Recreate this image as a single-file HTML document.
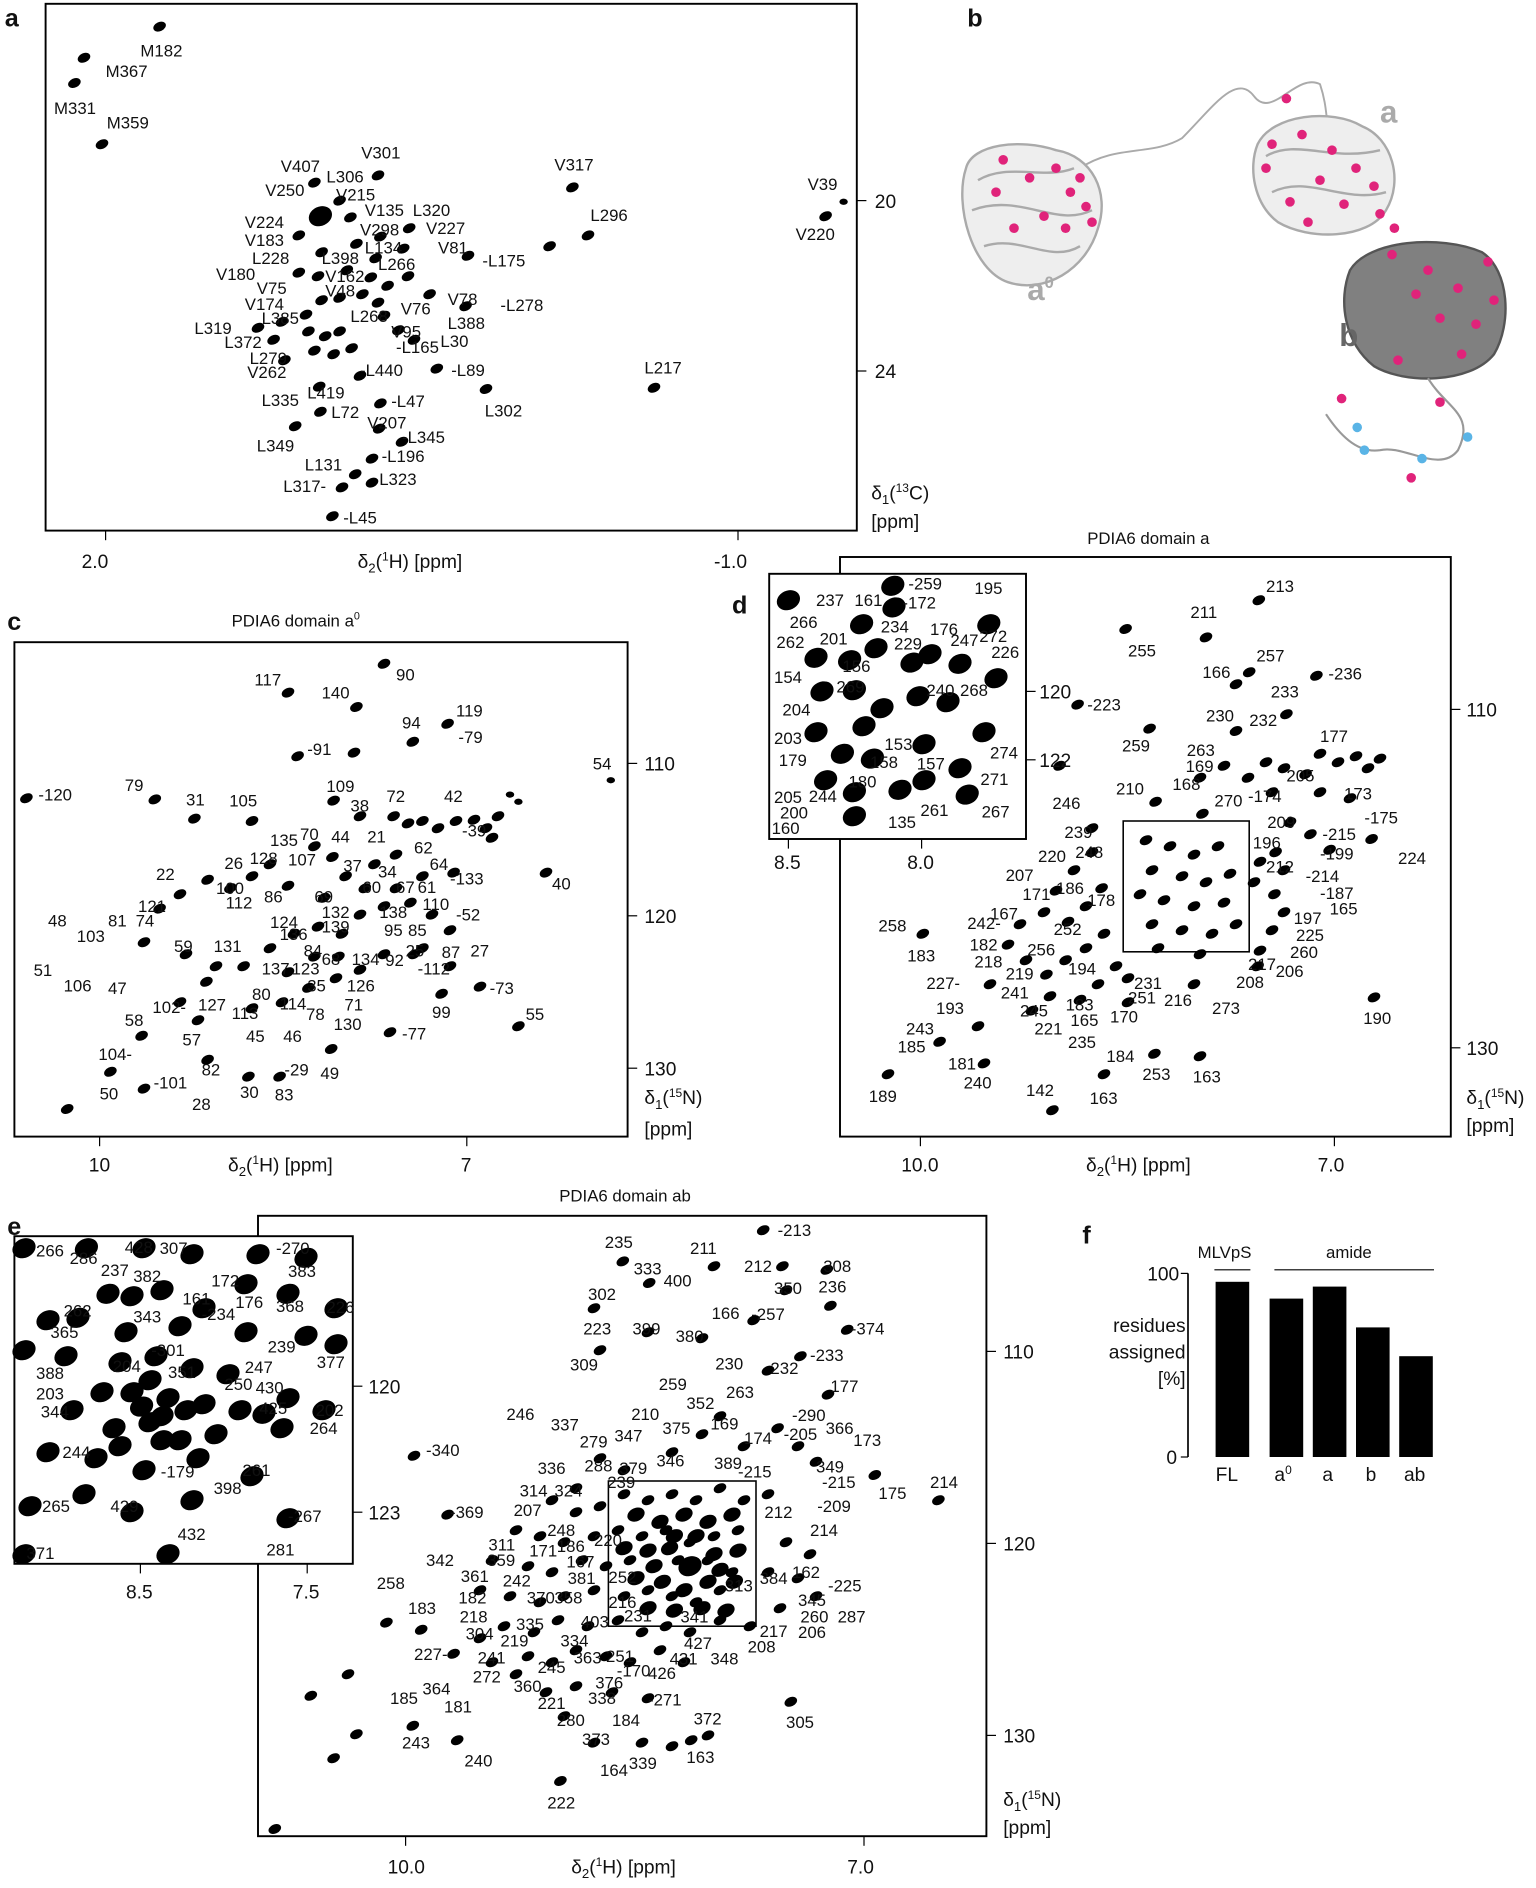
<!DOCTYPE html>
<html><head><meta charset="utf-8"><style>
html,body{margin:0;padding:0;background:#fff}
svg{display:block}
text{font-family:"Liberation Sans",Arial,sans-serif;font-size:14px;fill:#111}
.p{font-weight:bold;font-size:21px}
.t{font-size:16px}
.big{font-size:26px;font-weight:bold}
</style></head><body>
<svg width="1536" height="1888" viewBox="0 0 1280 1573" xmlns="http://www.w3.org/2000/svg">
<defs>
<ellipse id="k" rx="5.5" ry="3.8" transform="rotate(-25)" fill="#000"/>
<ellipse id="s" rx="3.5" ry="2.6" fill="#000"/>
<ellipse id="K" rx="10" ry="8" transform="rotate(-25)" fill="#000"/>
<ellipse id="M" rx="7.5" ry="5.5" transform="rotate(-25)" fill="#000"/>
</defs>

<!-- Panel a -->
<text class="p" x="4" y="22">a</text>
<rect x="38" y="3" width="676" height="439" fill="none" stroke="#000" stroke-width="1.6"/>
<line x1="714" y1="167" x2="722" y2="167" stroke="#000"/><text class="t" x="729" y="173">20</text>
<line x1="714" y1="309" x2="722" y2="309" stroke="#000"/><text class="t" x="729" y="315">24</text>
<line x1="88" y1="442" x2="88" y2="450" stroke="#000"/><text class="t" x="68" y="473">2.0</text>
<line x1="615" y1="442" x2="615" y2="450" stroke="#000"/><text class="t" x="595" y="473">-1.0</text>
<text class="t" x="298" y="473">δ<tspan font-size="11" dy="4">2</tspan><tspan dy="-4">(</tspan><tspan font-size="10" dy="-6">1</tspan><tspan dy="6">H) [ppm]</tspan></text>
<text class="t" x="726" y="416">δ<tspan font-size="11" dy="4">1</tspan><tspan dy="-4">(</tspan><tspan font-size="10" dy="-6">13</tspan><tspan dy="6">C)</tspan></text>
<text class="t" x="726" y="440">[ppm]</text>
<g>
<use href="#k" x="133" y="22"/><use href="#k" x="70" y="48"/><use href="#k" x="62" y="69"/><use href="#k" x="85" y="120"/>
<use href="#k" x="315" y="146"/><use href="#k" x="477" y="156"/><use href="#s" x="703" y="168"/><use href="#k" x="688" y="180"/>
<use href="#k" x="490" y="196"/><use href="#k" x="458" y="205"/><use href="#k" x="545" y="323"/><use href="#k" x="405" y="324"/>
<use href="#K" x="267" y="180"/><use href="#k" x="262" y="152"/><use href="#k" x="283" y="167"/><use href="#k" x="292" y="181"/>
<use href="#k" x="249" y="196"/><use href="#k" x="268" y="210"/><use href="#k" x="297" y="203"/><use href="#k" x="317" y="197"/>
<use href="#k" x="341" y="190"/><use href="#k" x="313" y="215"/><use href="#k" x="336" y="207"/><use href="#k" x="390" y="213"/>
<use href="#k" x="249" y="227"/><use href="#k" x="265" y="230"/><use href="#k" x="289" y="225"/><use href="#k" x="309" y="231"/>
<use href="#k" x="323" y="238"/><use href="#k" x="340" y="230"/><use href="#k" x="358" y="245"/><use href="#k" x="388" y="255"/>
<use href="#k" x="268" y="250"/><use href="#k" x="283" y="248"/><use href="#k" x="302" y="245"/><use href="#k" x="315" y="252"/>
<use href="#k" x="215" y="273"/><use href="#k" x="257" y="276"/><use href="#k" x="271" y="280"/><use href="#k" x="283" y="276"/>
<use href="#k" x="262" y="292"/><use href="#k" x="278" y="295"/><use href="#k" x="293" y="290"/><use href="#k" x="320" y="263"/>
<use href="#k" x="332" y="275"/><use href="#k" x="345" y="283"/><use href="#k" x="364" y="307"/><use href="#k" x="237" y="300"/>
<use href="#k" x="300" y="313"/><use href="#k" x="266" y="322"/><use href="#k" x="317" y="336"/><use href="#k" x="267" y="343"/>
<use href="#k" x="246" y="355"/><use href="#k" x="316" y="357"/><use href="#k" x="335" y="368"/><use href="#k" x="310" y="382"/>
<use href="#k" x="296" y="395"/><use href="#k" x="285" y="406"/><use href="#k" x="310" y="402"/><use href="#k" x="277" y="430"/>
<use href="#k" x="235" y="268"/><use href="#k" x="228" y="283"/><use href="#k" x="255" y="262"/>
</g>
<g>
<text x="117" y="47">M182</text><text x="88" y="64">M367</text><text x="45" y="95">M331</text><text x="89" y="107">M359</text>
<text x="301" y="132">V301</text><text x="462" y="142">V317</text><text x="673" y="158">V39</text><text x="663" y="200">V220</text>
<text x="492" y="184">L296</text><text x="537" y="311">L217</text><text x="404" y="347">L302</text>
<text x="234" y="143">V407</text><text x="272" y="152">L306</text><text x="221" y="163">V250</text><text x="280" y="167">V215</text>
<text x="304" y="180">V135</text><text x="344" y="180">L320</text><text x="204" y="190">V224</text><text x="300" y="196">V298</text>
<text x="355" y="195">V227</text><text x="204" y="205">V183</text><text x="304" y="211">L134</text><text x="365" y="211">V81</text>
<text x="210" y="220">L228</text><text x="268" y="220">L398</text><text x="315" y="225">L266</text><text x="402" y="222">-L175</text>
<text x="180" y="233">V180</text><text x="271" y="235">V162</text><text x="214" y="245">V75</text><text x="271" y="247">V48</text>
<text x="373" y="254">V78</text><text x="417" y="259">-L278</text><text x="204" y="258">V174</text><text x="334" y="262">V76</text>
<text x="218" y="270">L385</text><text x="292" y="268">L268</text><text x="373" y="274">L388</text><text x="162" y="278">L319</text>
<text x="326" y="281">V95</text><text x="187" y="290">L372</text><text x="330" y="294">-L165</text><text x="367" y="289">L30</text>
<text x="208" y="303">L279</text><text x="300" y="313">-L440</text><text x="376" y="313">-L89</text><text x="206" y="315">V262</text>
<text x="256" y="332">L419</text><text x="218" y="338">L335</text><text x="326" y="339">-L47</text><text x="276" y="348">L72</text>
<text x="306" y="357">V207</text><text x="335" y="369">-L345</text><text x="214" y="376">L349</text><text x="318" y="385">-L196</text>
<text x="254" y="392">L131</text><text x="316" y="404">L323</text><text x="236" y="410">L317-</text><text x="286" y="436">-L45</text>
</g>

<!-- Panel b -->
<text class="p" x="806" y="22">b</text>
<path d="M900 140 C930 120 960 130 985 115 C1010 90 1030 60 1045 80 C1060 100 1080 60 1100 70 C1110 100 1100 110 1120 120" fill="none" stroke="#aaa" stroke-width="1.6"/>
<g fill="none" stroke="#aaa" stroke-width="2">
<path d="M805 140 C810 120 850 115 880 125 C910 130 925 160 915 190 C905 225 870 245 840 235 C810 225 795 170 805 140Z" fill="#eee"/>
<path d="M815 150 C840 135 870 150 895 140 M810 175 C850 160 880 190 910 175 M820 205 C850 195 875 220 900 205"/>
<path d="M1048 120 C1060 95 1110 90 1135 105 C1160 115 1170 150 1155 175 C1140 200 1090 200 1065 185 C1045 170 1040 140 1048 120Z" fill="#eee"/>
<path d="M1055 130 C1080 115 1110 135 1150 125 M1060 160 C1090 145 1120 170 1155 160"/>
</g>
<path d="M1125 225 C1140 200 1200 195 1235 210 C1258 225 1260 270 1245 295 C1225 320 1170 320 1145 305 C1120 285 1115 250 1125 225Z" fill="#808080" stroke="#555" stroke-width="2"/>
<path d="M1190 315 C1205 340 1230 345 1215 375 C1200 395 1170 370 1150 375 C1130 378 1115 360 1105 345" fill="none" stroke="#999" stroke-width="1.8"/>
<text class="big" x="1150" y="102" style="fill:#aaa">a</text>
<text class="big" x="856" y="250" style="fill:#aaa">a<tspan style="font-size:14px" dy="-10">0</tspan></text>
<text class="big" x="1116" y="288" style="fill:#666">b</text>
<g fill="#e0237a">
<circle cx="836" cy="133" r="4"/><circle cx="858" cy="148" r="4"/><circle cx="880" cy="140" r="4"/><circle cx="892" cy="160" r="4"/><circle cx="905" cy="172" r="4"/><circle cx="870" cy="180" r="4"/><circle cx="845" cy="190" r="4"/><circle cx="910" cy="185" r="4"/><circle cx="830" cy="160" r="4"/><circle cx="888" cy="190" r="4"/><circle cx="900" cy="148" r="4"/><circle cx="1072" cy="82" r="4"/>
<circle cx="1060" cy="120" r="4"/><circle cx="1085" cy="112" r="4"/><circle cx="1110" cy="125" r="4"/><circle cx="1130" cy="140" r="4"/><circle cx="1145" cy="155" r="4"/><circle cx="1100" cy="150" r="4"/><circle cx="1075" cy="168" r="4"/><circle cx="1120" cy="170" r="4"/><circle cx="1150" cy="178" r="4"/><circle cx="1162" cy="190" r="4"/><circle cx="1090" cy="185" r="4"/><circle cx="1055" cy="140" r="4"/>
<circle cx="1160" cy="212" r="4"/><circle cx="1190" cy="225" r="4"/><circle cx="1215" cy="240" r="4"/><circle cx="1240" cy="218" r="4"/><circle cx="1230" cy="270" r="4"/><circle cx="1200" cy="265" r="4"/><circle cx="1180" cy="245" r="4"/><circle cx="1245" cy="250" r="4"/><circle cx="1218" cy="295" r="4"/><circle cx="1165" cy="300" r="4"/><circle cx="1200" cy="335" r="4"/><circle cx="1118" cy="332" r="4"/><circle cx="1176" cy="398" r="4"/>
</g>
<g fill="#5ab4e6"><circle cx="1131" cy="356" r="4"/><circle cx="1137" cy="375" r="4"/><circle cx="1185" cy="382" r="4"/><circle cx="1223" cy="364" r="4"/></g>

<!-- Panel c -->
<text class="p" x="6" y="525">c</text>
<text x="193" y="522">PDIA6 domain a<tspan font-size="9" dy="-6">0</tspan></text>
<rect x="12" y="535" width="511" height="412" fill="none" stroke="#000" stroke-width="1.6"/>
<line x1="523" y1="636" x2="531" y2="636" stroke="#000"/><text class="t" x="537" y="642">110</text>
<line x1="523" y1="763" x2="531" y2="763" stroke="#000"/><text class="t" x="537" y="769">120</text>
<line x1="523" y1="890" x2="531" y2="890" stroke="#000"/><text class="t" x="537" y="896">130</text>
<line x1="83" y1="947" x2="83" y2="955" stroke="#000"/><text class="t" x="74" y="976">10</text>
<line x1="389" y1="947" x2="389" y2="955" stroke="#000"/><text class="t" x="384" y="976">7</text>
<text class="t" x="190" y="976">δ<tspan font-size="11" dy="4">2</tspan><tspan dy="-4">(</tspan><tspan font-size="10" dy="-6">1</tspan><tspan dy="6">H) [ppm]</tspan></text>
<text class="t" x="537" y="920">δ<tspan font-size="11" dy="4">1</tspan><tspan dy="-4">(</tspan><tspan font-size="10" dy="-6">15</tspan><tspan dy="6">N)</tspan></text>
<text class="t" x="537" y="946">[ppm]</text>
<g>
<use href="#k" x="320" y="553"/><use href="#k" x="240" y="577"/><use href="#k" x="297" y="589"/><use href="#k" x="373" y="603"/><use href="#k" x="344" y="618"/><use href="#k" x="248" y="630"/><use href="#k" x="295" y="627"/><use href="#s" x="509" y="650"/><use href="#k" x="22" y="665"/><use href="#k" x="129" y="666"/><use href="#k" x="162" y="682"/><use href="#k" x="210" y="684"/><use href="#k" x="455" y="727"/><use href="#k" x="432" y="855"/><use href="#k" x="400" y="822"/><use href="#k" x="368" y="828"/><use href="#k" x="325" y="860"/><use href="#k" x="56" y="924"/><use href="#k" x="92" y="893"/><use href="#k" x="120" y="907"/><use href="#k" x="173" y="883"/><use href="#k" x="207" y="897"/><use href="#k" x="276" y="874"/><use href="#k" x="233" y="897"/><use href="#k" x="118" y="863"/>
<use href="#k" x="278" y="667"/><use href="#k" x="300" y="680"/><use href="#k" x="328" y="680"/><use href="#k" x="340" y="686"/><use href="#k" x="352" y="684"/><use href="#k" x="365" y="690"/><use href="#k" x="380" y="684"/><use href="#k" x="395" y="683"/><use href="#k" x="405" y="690"/><use href="#k" x="415" y="680"/><use href="#k" x="410" y="698"/><use href="#s" x="425" y="662"/><use href="#s" x="432" y="668"/><use href="#k" x="277" y="714"/><use href="#k" x="262" y="705"/><use href="#k" x="288" y="730"/><use href="#k" x="312" y="720"/><use href="#k" x="330" y="712"/><use href="#k" x="352" y="730"/><use href="#k" x="378" y="727"/><use href="#k" x="330" y="740"/><use href="#k" x="304" y="740"/><use href="#k" x="270" y="748"/><use href="#k" x="240" y="738"/><use href="#k" x="225" y="720"/><use href="#k" x="210" y="730"/><use href="#k" x="192" y="740"/><use href="#k" x="173" y="733"/><use href="#k" x="150" y="745"/><use href="#k" x="133" y="757"/><use href="#k" x="120" y="785"/><use href="#k" x="155" y="795"/><use href="#k" x="180" y="805"/><use href="#k" x="203" y="805"/><use href="#k" x="225" y="790"/><use href="#k" x="245" y="778"/><use href="#k" x="265" y="772"/><use href="#k" x="285" y="778"/><use href="#k" x="300" y="762"/><use href="#k" x="320" y="755"/><use href="#k" x="342" y="752"/><use href="#k" x="360" y="762"/><use href="#k" x="375" y="775"/><use href="#k" x="345" y="795"/><use href="#k" x="320" y="795"/><use href="#k" x="300" y="808"/><use href="#k" x="280" y="815"/><use href="#k" x="257" y="823"/><use href="#k" x="235" y="835"/><use href="#k" x="210" y="840"/><use href="#k" x="172" y="818"/><use href="#k" x="150" y="835"/><use href="#k" x="165" y="850"/><use href="#k" x="240" y="810"/><use href="#k" x="262" y="797"/><use href="#k" x="282" y="797"/><use href="#k" x="352" y="790"/><use href="#k" x="375" y="805"/>
</g>
<g>
<text x="330" y="567">90</text><text x="212" y="571">117</text><text x="268" y="582">140</text><text x="380" y="597">119</text><text x="335" y="607">94</text><text x="382" y="619">-79</text><text x="256" y="629">-91</text><text x="494" y="641">54</text><text x="32" y="667">-120</text><text x="104" y="659">79</text><text x="155" y="671">31</text><text x="191" y="672">105</text><text x="272" y="660">109</text><text x="292" y="676">38</text><text x="322" y="668">72</text><text x="370" y="668">42</text><text x="385" y="697">-39</text><text x="225" y="705">135</text><text x="250" y="700">70</text><text x="276" y="702">44</text><text x="306" y="702">21</text><text x="345" y="711">62</text><text x="358" y="725">64</text><text x="187" y="724">26</text><text x="208" y="720">128</text><text x="240" y="721">107</text><text x="286" y="726">37</text><text x="315" y="731">34</text><text x="375" y="737">-133</text><text x="460" y="741">40</text><text x="130" y="733">22</text><text x="180" y="745">100</text><text x="220" y="752">86</text><text x="262" y="752">69</text><text x="302" y="744">60</text><text x="330" y="744">67</text><text x="348" y="744">61</text><text x="115" y="760">121</text><text x="188" y="757">112</text><text x="268" y="765">132</text><text x="316" y="765">138</text><text x="352" y="758">110</text><text x="380" y="767">-52</text><text x="40" y="772">48</text><text x="90" y="772">81</text><text x="113" y="772">74</text><text x="225" y="773">124</text><text x="268" y="777">139</text><text x="320" y="780">95</text><text x="340" y="780">85</text><text x="64" y="785">103</text><text x="145" y="793">59</text><text x="178" y="793">131</text><text x="233" y="783">136</text><text x="253" y="797">84</text><text x="338" y="797">25</text><text x="368" y="798">87</text><text x="392" y="797">27</text><text x="218" y="812">137</text><text x="243" y="812">123</text><text x="268" y="804">68</text><text x="293" y="804">134</text><text x="321" y="805">92</text><text x="348" y="812">-112</text><text x="28" y="813">51</text><text x="53" y="826">106</text><text x="90" y="828">47</text><text x="210" y="833">80</text><text x="233" y="841">114</text><text x="256" y="826">35</text><text x="289" y="826">126</text><text x="408" y="828">-73</text><text x="127" y="844">102-</text><text x="165" y="842">127</text><text x="287" y="842">71</text><text x="193" y="849">113</text><text x="255" y="850">78</text><text x="278" y="858">130</text><text x="360" y="848">99</text><text x="438" y="850">55</text><text x="104" y="855">58</text><text x="205" y="868">45</text><text x="236" y="868">46</text><text x="335" y="866">-77</text><text x="152" y="871">57</text><text x="82" y="883">104-</text><text x="168" y="896">82</text><text x="237" y="896">-29</text><text x="267" y="899">49</text><text x="128" y="907">-101</text><text x="83" y="916">50</text><text x="160" y="925">28</text><text x="200" y="915">30</text><text x="229" y="917">83</text>
</g>

<!-- Panel d -->
<text class="p" x="610" y="511">d</text>
<text x="906" y="453">PDIA6 domain a</text>
<rect x="700" y="464" width="509" height="483" fill="none" stroke="#000" stroke-width="1.6"/>
<line x1="1209" y1="591" x2="1217" y2="591" stroke="#000"/><text class="t" x="1222" y="597">110</text>
<line x1="1209" y1="873" x2="1217" y2="873" stroke="#000"/><text class="t" x="1222" y="879">130</text>
<line x1="767" y1="947" x2="767" y2="955" stroke="#000"/><text class="t" x="751" y="976">10.0</text>
<line x1="1112" y1="947" x2="1112" y2="955" stroke="#000"/><text class="t" x="1098" y="976">7.0</text>
<text class="t" x="905" y="976">δ<tspan font-size="11" dy="4">2</tspan><tspan dy="-4">(</tspan><tspan font-size="10" dy="-6">1</tspan><tspan dy="6">H) [ppm]</tspan></text>
<text class="t" x="1222" y="920">δ<tspan font-size="11" dy="4">1</tspan><tspan dy="-4">(</tspan><tspan font-size="10" dy="-6">15</tspan><tspan dy="6">N)</tspan></text>
<text class="t" x="1222" y="943">[ppm]</text>
<rect x="936" y="684" width="105" height="109" fill="none" stroke="#000" stroke-width="1.3"/>
<g>
<use href="#k" x="1049" y="500"/><use href="#k" x="938" y="524"/><use href="#k" x="1005" y="531"/><use href="#k" x="1041" y="560"/><use href="#k" x="1097" y="563"/><use href="#k" x="1030" y="570"/><use href="#k" x="898" y="587"/><use href="#k" x="958" y="607"/><use href="#k" x="1030" y="609"/><use href="#k" x="1072" y="595"/><use href="#k" x="883" y="638"/><use href="#k" x="963" y="668"/><use href="#k" x="1002" y="678"/><use href="#k" x="1143" y="699"/><use href="#k" x="1145" y="831"/><use href="#k" x="769" y="778"/><use href="#k" x="740" y="895"/><use href="#k" x="877" y="925"/><use href="#k" x="920" y="895"/><use href="#k" x="962" y="878"/><use href="#k" x="1000" y="880"/><use href="#k" x="820" y="886"/><use href="#k" x="783" y="868"/>
<use href="#k" x="1100" y="628"/><use href="#k" x="1115" y="635"/><use href="#k" x="1130" y="630"/><use href="#k" x="1140" y="640"/><use href="#k" x="1150" y="632"/><use href="#k" x="1055" y="635"/><use href="#k" x="1070" y="640"/><use href="#k" x="1088" y="645"/><use href="#k" x="1040" y="648"/><use href="#k" x="1060" y="660"/><use href="#k" x="1100" y="660"/><use href="#k" x="1125" y="665"/><use href="#k" x="1020" y="638"/><use href="#k" x="1000" y="648"/><use href="#k" x="1075" y="685"/><use href="#k" x="1092" y="695"/><use href="#k" x="1108" y="708"/><use href="#k" x="1063" y="710"/><use href="#k" x="1070" y="725"/><use href="#k" x="1062" y="745"/><use href="#k" x="1070" y="760"/><use href="#k" x="1060" y="775"/><use href="#k" x="1050" y="792"/><use href="#k" x="1048" y="805"/><use href="#k" x="1045" y="735"/><use href="#k" x="1050" y="718"/>
<use href="#k" x="955" y="700"/><use href="#k" x="975" y="705"/><use href="#k" x="995" y="712"/><use href="#k" x="1015" y="705"/><use href="#k" x="960" y="725"/><use href="#k" x="985" y="730"/><use href="#k" x="1005" y="735"/><use href="#k" x="1025" y="728"/><use href="#k" x="950" y="745"/><use href="#k" x="970" y="750"/><use href="#k" x="995" y="755"/><use href="#k" x="1020" y="752"/><use href="#k" x="960" y="770"/><use href="#k" x="985" y="775"/><use href="#k" x="1010" y="778"/><use href="#k" x="1030" y="770"/><use href="#k" x="965" y="790"/><use href="#k" x="1000" y="795"/>
<use href="#k" x="910" y="690"/><use href="#k" x="910" y="710"/><use href="#k" x="895" y="725"/><use href="#k" x="880" y="742"/><use href="#k" x="918" y="740"/><use href="#k" x="905" y="755"/><use href="#k" x="890" y="768"/><use href="#k" x="870" y="760"/><use href="#k" x="850" y="770"/><use href="#k" x="840" y="787"/><use href="#k" x="855" y="800"/><use href="#k" x="872" y="812"/><use href="#k" x="888" y="800"/><use href="#k" x="905" y="790"/><use href="#k" x="920" y="778"/><use href="#k" x="930" y="805"/><use href="#k" x="915" y="820"/><use href="#k" x="900" y="833"/><use href="#k" x="940" y="815"/><use href="#k" x="875" y="830"/><use href="#k" x="860" y="842"/><use href="#k" x="825" y="820"/><use href="#k" x="815" y="855"/><use href="#k" x="995" y="820"/><use href="#k" x="940" y="835"/>
</g>
<g>
<text x="1055" y="493">213</text><text x="992" y="515">211</text><text x="1047" y="551">257</text><text x="940" y="547">255</text><text x="1002" y="565">166</text><text x="1107" y="566">-236</text><text x="1059" y="581">233</text><text x="906" y="592">-223</text><text x="1005" y="601">230</text><text x="1041" y="605">232</text><text x="1100" y="618">177</text><text x="935" y="626">259</text><text x="989" y="630">263</text><text x="988" y="643">169</text><text x="1072" y="651">205</text><text x="1120" y="666">173</text><text x="877" y="674">246</text><text x="977" y="658">168</text><text x="1012" y="672">270</text><text x="1040" y="668">-174</text><text x="930" y="662">210</text><text x="1137" y="686">-175</text><text x="1102" y="700">-215</text><text x="1056" y="690">209</text><text x="887" y="698">239</text><text x="896" y="715">248</text><text x="1165" y="720">224</text><text x="1044" y="707">196</text><text x="1100" y="716">-199</text><text x="865" y="718">220</text><text x="838" y="734">207</text><text x="1055" y="727">212</text><text x="1088" y="735">-214</text><text x="880" y="745">186</text><text x="852" y="750">171</text><text x="906" y="755">178</text><text x="1100" y="749">-187</text><text x="1108" y="762">165</text><text x="825" y="766">167</text><text x="732" y="776">258</text><text x="1078" y="770">197</text><text x="878" y="779">252</text><text x="806" y="774">242-</text><text x="1080" y="784">225</text><text x="756" y="801">183</text><text x="808" y="792">182</text><text x="856" y="796">256</text><text x="1075" y="798">260</text><text x="812" y="806">218</text><text x="1040" y="808">217</text><text x="1063" y="814">206</text><text x="890" y="812">194</text><text x="838" y="816">219</text><text x="945" y="824">231</text><text x="1030" y="823">208</text><text x="772" y="824">227-</text><text x="834" y="832">241</text><text x="940" y="836">251</text><text x="970" y="838">216</text><text x="888" y="842">183</text><text x="850" y="847">245</text><text x="1010" y="845">273</text><text x="780" y="845">193</text><text x="892" y="855">165</text><text x="925" y="852">170</text><text x="1136" y="853">190</text><text x="862" y="862">221</text><text x="755" y="862">243</text><text x="890" y="873">235</text><text x="748" y="877">185</text><text x="922" y="885">184</text><text x="790" y="891">181</text><text x="952" y="900">253</text><text x="994" y="902">163</text><text x="803" y="907">240</text><text x="855" y="913">142</text><text x="908" y="920">163</text><text x="724" y="918">189</text>
</g>
<!-- inset d -->
<rect x="641" y="478" width="214" height="221" fill="#fff" stroke="#000" stroke-width="1.6"/>
<line x1="855" y1="576" x2="863" y2="576" stroke="#000"/><text class="t" x="866" y="582">120</text>
<line x1="855" y1="633" x2="863" y2="633" stroke="#000"/><text class="t" x="866" y="639">122</text>
<line x1="657" y1="699" x2="657" y2="707" stroke="#000"/><text class="t" x="645" y="724">8.5</text>
<line x1="768" y1="699" x2="768" y2="707" stroke="#000"/><text class="t" x="756" y="724">8.0</text>
<g>
<use href="#K" x="657" y="500"/><use href="#K" x="718" y="520"/><use href="#K" x="745" y="506"/><use href="#K" x="744" y="488"/><use href="#K" x="680" y="548"/><use href="#K" x="708" y="550"/><use href="#K" x="730" y="540"/><use href="#K" x="760" y="552"/><use href="#K" x="775" y="545"/><use href="#K" x="800" y="553"/><use href="#K" x="824" y="520"/><use href="#K" x="830" y="565"/><use href="#K" x="685" y="576"/><use href="#K" x="712" y="575"/><use href="#K" x="735" y="590"/><use href="#K" x="765" y="580"/><use href="#K" x="790" y="585"/><use href="#K" x="720" y="605"/><use href="#K" x="680" y="610"/><use href="#K" x="702" y="628"/><use href="#K" x="727" y="632"/><use href="#K" x="770" y="620"/><use href="#K" x="820" y="610"/><use href="#K" x="800" y="640"/><use href="#K" x="688" y="650"/><use href="#K" x="712" y="660"/><use href="#K" x="750" y="658"/><use href="#K" x="770" y="650"/><use href="#K" x="806" y="662"/><use href="#K" x="712" y="680"/>
</g>
<g>
<text x="757" y="491">-259</text><text x="812" y="495">195</text><text x="680" y="505">237</text><text x="712" y="505">161</text><text x="752" y="507">-172</text><text x="658" y="523">266</text><text x="775" y="529">176</text><text x="647" y="540">262</text><text x="683" y="537">201</text><text x="734" y="527">234</text><text x="816" y="535">272</text><text x="745" y="541">229</text><text x="792" y="538">247</text><text x="826" y="548">226</text><text x="702" y="560">156</text><text x="645" y="569">154</text><text x="697" y="577">269</text><text x="772" y="580">240</text><text x="800" y="580">268</text><text x="652" y="596">204</text><text x="645" y="620">203</text><text x="737" y="625">153</text><text x="825" y="632">274</text><text x="649" y="638">179</text><text x="725" y="640">158</text><text x="764" y="641">157</text><text x="817" y="654">271</text><text x="707" y="656">180</text><text x="645" y="669">205</text><text x="674" y="668">244</text><text x="767" y="680">261</text><text x="818" y="681">267</text><text x="650" y="682">200</text><text x="740" y="690">135</text><text x="643" y="695">160</text>
</g>

<!-- Panel e -->
<text class="p" x="6" y="1029">e</text>
<text x="466" y="1001">PDIA6 domain ab</text>
<rect x="215" y="1013" width="607" height="517" fill="none" stroke="#000" stroke-width="1.6"/>
<line x1="822" y1="1126" x2="830" y2="1126" stroke="#000"/><text class="t" x="836" y="1132">110</text>
<line x1="822" y1="1286" x2="830" y2="1286" stroke="#000"/><text class="t" x="836" y="1292">120</text>
<line x1="822" y1="1446" x2="830" y2="1446" stroke="#000"/><text class="t" x="836" y="1452">130</text>
<line x1="338" y1="1530" x2="338" y2="1538" stroke="#000"/><text class="t" x="323" y="1561">10.0</text>
<line x1="720" y1="1530" x2="720" y2="1538" stroke="#000"/><text class="t" x="706" y="1561">7.0</text>
<text class="t" x="476" y="1561">δ<tspan font-size="11" dy="4">2</tspan><tspan dy="-4">(</tspan><tspan font-size="10" dy="-6">1</tspan><tspan dy="6">H) [ppm]</tspan></text>
<text class="t" x="836" y="1505">δ<tspan font-size="11" dy="4">1</tspan><tspan dy="-4">(</tspan><tspan font-size="10" dy="-6">15</tspan><tspan dy="6">N)</tspan></text>
<text class="t" x="836" y="1528">[ppm]</text>
<rect x="507" y="1234" width="123" height="121" fill="none" stroke="#000" stroke-width="1.3"/>
<g>
<use href="#k" x="636" y="1025"/><use href="#k" x="519" y="1051"/><use href="#k" x="595" y="1055"/><use href="#k" x="652" y="1055"/><use href="#k" x="689" y="1058"/><use href="#k" x="541" y="1069"/><use href="#k" x="655" y="1075"/><use href="#k" x="692" y="1088"/><use href="#k" x="495" y="1090"/><use href="#k" x="628" y="1100"/><use href="#k" x="706" y="1108"/><use href="#k" x="540" y="1110"/><use href="#k" x="585" y="1115"/><use href="#k" x="500" y="1125"/><use href="#k" x="667" y="1130"/><use href="#k" x="640" y="1142"/><use href="#k" x="690" y="1162"/><use href="#k" x="345" y="1213"/><use href="#k" x="782" y="1250"/><use href="#k" x="729" y="1229"/><use href="#k" x="373" y="1262"/><use href="#k" x="351" y="1358"/><use href="#k" x="659" y="1418"/><use href="#k" x="259" y="1413"/><use href="#k" x="229" y="1524"/><use href="#k" x="467" y="1484"/><use href="#k" x="590" y="1446"/><use href="#k" x="278" y="1465"/><use href="#k" x="297" y="1445"/><use href="#k" x="381" y="1450"/><use href="#k" x="344" y="1438"/><use href="#k" x="535" y="1452"/><use href="#k" x="560" y="1455"/><use href="#k" x="576" y="1450"/><use href="#k" x="495" y="1452"/><use href="#k" x="322" y="1352"/><use href="#k" x="378" y="1378"/><use href="#k" x="290" y="1395"/>
</g>
<g>
<use href="#k" x="460" y="1250"/><use href="#k" x="480" y="1260"/><use href="#k" x="500" y="1255"/><use href="#k" x="520" y="1245"/><use href="#k" x="540" y="1250"/><use href="#k" x="560" y="1245"/><use href="#k" x="580" y="1250"/><use href="#k" x="600" y="1240"/><use href="#k" x="620" y="1250"/><use href="#k" x="640" y="1245"/><use href="#k" x="430" y="1275"/><use href="#k" x="450" y="1280"/><use href="#k" x="470" y="1285"/><use href="#k" x="495" y="1280"/><use href="#k" x="515" y="1275"/><use href="#k" x="535" y="1280"/><use href="#k" x="555" y="1275"/><use href="#k" x="575" y="1285"/><use href="#k" x="595" y="1280"/><use href="#k" x="615" y="1275"/><use href="#k" x="655" y="1285"/><use href="#k" x="675" y="1295"/><use href="#k" x="410" y="1300"/><use href="#k" x="440" y="1305"/><use href="#k" x="460" y="1310"/><use href="#k" x="485" y="1300"/><use href="#k" x="505" y="1305"/><use href="#k" x="525" y="1300"/><use href="#k" x="545" y="1305"/><use href="#k" x="565" y="1300"/><use href="#k" x="590" y="1300"/><use href="#k" x="610" y="1310"/><use href="#k" x="640" y="1310"/><use href="#k" x="665" y="1315"/><use href="#k" x="680" y="1330"/><use href="#k" x="400" y="1325"/><use href="#k" x="425" y="1330"/><use href="#k" x="450" y="1335"/><use href="#k" x="470" y="1330"/><use href="#k" x="495" y="1325"/><use href="#k" x="520" y="1330"/><use href="#k" x="540" y="1325"/><use href="#k" x="560" y="1330"/><use href="#k" x="580" y="1335"/><use href="#k" x="600" y="1325"/><use href="#k" x="650" y="1340"/><use href="#k" x="420" y="1355"/><use href="#k" x="445" y="1360"/><use href="#k" x="465" y="1350"/><use href="#k" x="490" y="1355"/><use href="#k" x="515" y="1350"/><use href="#k" x="535" y="1360"/><use href="#k" x="555" y="1355"/><use href="#k" x="575" y="1360"/><use href="#k" x="600" y="1350"/><use href="#k" x="625" y="1355"/><use href="#k" x="440" y="1380"/><use href="#k" x="460" y="1385"/><use href="#k" x="480" y="1375"/><use href="#k" x="505" y="1380"/><use href="#k" x="525" y="1385"/><use href="#k" x="550" y="1375"/><use href="#k" x="570" y="1385"/><use href="#k" x="455" y="1410"/><use href="#k" x="480" y="1405"/><use href="#k" x="510" y="1410"/><use href="#k" x="540" y="1415"/><use href="#k" x="470" y="1430"/><use href="#k" x="430" y="1395"/><use href="#k" x="410" y="1385"/><use href="#k" x="400" y="1365"/><use href="#k" x="520" y="1225"/><use href="#k" x="500" y="1215"/><use href="#k" x="560" y="1210"/><use href="#k" x="585" y="1195"/><use href="#k" x="600" y="1180"/><use href="#k" x="620" y="1205"/><use href="#k" x="648" y="1190"/><use href="#k" x="665" y="1205"/><use href="#k" x="680" y="1218"/><use href="#k" x="480" y="1240"/>
<!-- dense core -->
<use href="#M" x="530" y="1262"/><use href="#M" x="550" y="1268"/><use href="#M" x="570" y="1262"/><use href="#M" x="590" y="1268"/><use href="#M" x="610" y="1262"/><use href="#M" x="520" y="1290"/><use href="#M" x="540" y="1292"/><use href="#M" x="558" y="1290"/><use href="#K" x="575" y="1305"/><use href="#M" x="595" y="1295"/><use href="#M" x="615" y="1292"/><use href="#M" x="530" y="1315"/><use href="#M" x="552" y="1318"/><use href="#M" x="570" y="1325"/><use href="#M" x="590" y="1318"/><use href="#M" x="612" y="1318"/><use href="#M" x="540" y="1340"/><use href="#M" x="562" y="1342"/><use href="#M" x="585" y="1340"/><use href="#M" x="605" y="1342"/><use href="#M" x="562" y="1280"/><use href="#M" x="580" y="1280"/><use href="#M" x="545" y="1305"/><use href="#M" x="600" y="1308"/>
</g>
<g>
<text x="648" y="1030">-213</text><text x="504" y="1040">235</text><text x="575" y="1045">211</text><text x="620" y="1060">212</text><text x="686" y="1060">308</text><text x="528" y="1062">333</text><text x="553" y="1072">400</text><text x="645" y="1078">350</text><text x="682" y="1077">236</text><text x="490" y="1083">302</text><text x="593" y="1099">166</text><text x="626" y="1100">-257</text><text x="709" y="1112">-374</text><text x="486" y="1112">223</text><text x="527" y="1112">399</text><text x="563" y="1118">380</text><text x="675" y="1134">-233</text><text x="475" y="1142">309</text><text x="596" y="1141">230</text><text x="642" y="1145">232</text><text x="692" y="1160">177</text><text x="549" y="1158">259</text><text x="572" y="1174">352</text><text x="605" y="1165">263</text><text x="660" y="1184">-290</text><text x="422" y="1183">246</text><text x="459" y="1192">337</text><text x="526" y="1183">210</text><text x="552" y="1195">375</text><text x="592" y="1191">169</text><text x="620" y="1203">174</text><text x="653" y="1200">-205</text><text x="688" y="1195">366</text><text x="711" y="1205">173</text><text x="355" y="1213">-340</text><text x="483" y="1206">279</text><text x="512" y="1201">347</text><text x="547" y="1222">346</text><text x="595" y="1224">389</text><text x="615" y="1231">-215</text><text x="680" y="1227">349</text><text x="448" y="1228">336</text><text x="487" y="1226">288</text><text x="516" y="1228">379</text><text x="685" y="1240">-215</text><text x="732" y="1249">175</text><text x="775" y="1240">214</text><text x="433" y="1247">314</text><text x="462" y="1247">324</text><text x="506" y="1240">239</text><text x="681" y="1260">-209</text><text x="375" y="1265">-369</text><text x="428" y="1263">207</text><text x="637" y="1265">212</text><text x="675" y="1280">214</text><text x="456" y="1280">248</text><text x="495" y="1288">220</text><text x="407" y="1292">311</text><text x="441" y="1297">171</text><text x="464" y="1293">186</text><text x="355" y="1305">342</text><text x="406" y="1305">359</text><text x="472" y="1306">167</text><text x="660" y="1315">162</text><text x="633" y="1320">384</text><text x="384" y="1318">361</text><text x="419" y="1322">242</text><text x="473" y="1320">381</text><text x="507" y="1319">252</text><text x="604" y="1326">313</text><text x="690" y="1326">-225</text><text x="382" y="1336">182</text><text x="439" y="1336">370</text><text x="462" y="1336">358</text><text x="507" y="1340">216</text><text x="665" y="1338">345</text><text x="314" y="1324">258</text><text x="383" y="1352">218</text><text x="340" y="1345">183</text><text x="567" y="1352">341</text><text x="667" y="1352">260</text><text x="698" y="1352">287</text><text x="430" y="1358">335</text><text x="484" y="1356">403</text><text x="520" y="1351">231</text><text x="388" y="1366">304</text><text x="417" y="1372">219</text><text x="467" y="1372">334</text><text x="633" y="1364">217</text><text x="665" y="1365">206</text><text x="570" y="1374">427</text><text x="345" y="1383">227-</text><text x="478" y="1386">363</text><text x="505" y="1385">251</text><text x="558" y="1387">431</text><text x="592" y="1387">348</text><text x="623" y="1377">208</text><text x="398" y="1386">241</text><text x="448" y="1394">245</text><text x="514" y="1397">-170</text><text x="540" y="1399">426</text><text x="394" y="1402">272</text><text x="496" y="1407">376</text><text x="428" y="1410">360</text><text x="352" y="1412">364</text><text x="325" y="1420">185</text><text x="370" y="1427">181</text><text x="490" y="1420">338</text><text x="540" y="1421">-271</text><text x="448" y="1424">221</text><text x="464" y="1438">280</text><text x="510" y="1438">184</text><text x="578" y="1437">372</text><text x="655" y="1440">305</text><text x="335" y="1457">243</text><text x="485" y="1454">373</text><text x="572" y="1469">163</text><text x="524" y="1474">339</text><text x="500" y="1480">164</text><text x="387" y="1472">240</text><text x="456" y="1507">222</text>
</g>
<!-- inset e -->
<rect x="12" y="1030" width="282" height="273" fill="#fff" stroke="#000" stroke-width="1.6"/>
<line x1="294" y1="1155" x2="302" y2="1155" stroke="#000"/><text class="t" x="307" y="1161">120</text>
<line x1="294" y1="1260" x2="302" y2="1260" stroke="#000"/><text class="t" x="307" y="1266">123</text>
<line x1="117" y1="1303" x2="117" y2="1311" stroke="#000"/><text class="t" x="105" y="1332">8.5</text>
<line x1="256" y1="1303" x2="256" y2="1311" stroke="#000"/><text class="t" x="244" y="1332">7.5</text>
<g>
<use href="#K" x="20" y="1040"/><use href="#K" x="72" y="1040"/><use href="#K" x="120" y="1040"/><use href="#K" x="160" y="1045"/><use href="#K" x="215" y="1045"/><use href="#K" x="255" y="1048"/><use href="#K" x="90" y="1078"/><use href="#K" x="110" y="1080"/><use href="#K" x="135" y="1075"/><use href="#K" x="170" y="1090"/><use href="#K" x="205" y="1070"/><use href="#K" x="240" y="1078"/><use href="#K" x="280" y="1090"/><use href="#K" x="40" y="1100"/><use href="#K" x="65" y="1098"/><use href="#K" x="105" y="1110"/><use href="#K" x="150" y="1105"/><use href="#K" x="205" y="1110"/><use href="#K" x="255" y="1113"/><use href="#K" x="20" y="1125"/><use href="#K" x="55" y="1130"/><use href="#K" x="100" y="1135"/><use href="#K" x="130" y="1130"/><use href="#K" x="160" y="1140"/><use href="#K" x="190" y="1145"/><use href="#K" x="85" y="1160"/><use href="#K" x="110" y="1160"/><use href="#K" x="140" y="1165"/><use href="#K" x="170" y="1170"/><use href="#K" x="200" y="1175"/><use href="#K" x="240" y="1165"/><use href="#K" x="60" y="1175"/><use href="#K" x="95" y="1190"/><use href="#K" x="125" y="1185"/><use href="#K" x="150" y="1200"/><use href="#K" x="180" y="1195"/><use href="#K" x="235" y="1190"/><use href="#K" x="270" y="1175"/><use href="#K" x="40" y="1210"/><use href="#K" x="80" y="1215"/><use href="#K" x="120" y="1225"/><use href="#K" x="165" y="1215"/><use href="#K" x="210" y="1230"/><use href="#K" x="25" y="1255"/><use href="#K" x="70" y="1245"/><use href="#K" x="110" y="1260"/><use href="#K" x="160" y="1250"/><use href="#K" x="240" y="1265"/><use href="#K" x="140" y="1295"/><use href="#K" x="20" y="1295"/><use href="#K" x="280" y="1120"/>
<use href="#K" x="118" y="1172"/><use href="#K" x="135" y="1180"/><use href="#K" x="155" y="1175"/><use href="#K" x="135" y="1200"/><use href="#K" x="100" y="1205"/><use href="#K" x="125" y="1150"/><use href="#K" x="220" y="1178"/>
</g>
<g>
<text x="30" y="1047">266</text><text x="58" y="1053">286</text><text x="84" y="1063">237</text><text x="104" y="1044">428</text><text x="133" y="1045">307</text><text x="111" y="1068">382</text><text x="176" y="1072">172</text><text x="230" y="1045">-270</text><text x="240" y="1064">383</text><text x="152" y="1087">161</text><text x="196" y="1090">176</text><text x="230" y="1093">368</text><text x="272" y="1094">226</text><text x="53" y="1097">262</text><text x="111" y="1102">343</text><text x="168" y="1100">-234</text><text x="42" y="1115">365</text><text x="126" y="1130">-301</text><text x="223" y="1127">239</text><text x="264" y="1140">377</text><text x="204" y="1144">247</text><text x="30" y="1149">388</text><text x="94" y="1143">204</text><text x="140" y="1148">351</text><text x="187" y="1158">250</text><text x="213" y="1161">430</text><text x="30" y="1166">203</text><text x="216" y="1178">425</text><text x="263" y="1180">202</text><text x="34" y="1181">344</text><text x="258" y="1195">264</text><text x="52" y="1215">244</text><text x="134" y="1231">-179</text><text x="202" y="1230">261</text><text x="178" y="1245">398</text><text x="35" y="1260">265</text><text x="240" y="1268">-267</text><text x="92" y="1260">429</text><text x="148" y="1283">432</text><text x="222" y="1296">281</text><text x="22" y="1299">371</text>
</g>

<!-- Panel f -->
<text class="p" x="902" y="1036">f</text>
<text x="998" y="1048">MLVpS</text><text x="1105" y="1048">amide</text>
<line x1="1012" y1="1058" x2="1042" y2="1058" stroke="#000"/><line x1="1062" y1="1058" x2="1195" y2="1058" stroke="#000"/>
<line x1="990" y1="1061" x2="990" y2="1214" stroke="#000" stroke-width="1.4"/>
<line x1="984" y1="1061" x2="990" y2="1061" stroke="#000"/><line x1="984" y1="1214" x2="990" y2="1214" stroke="#000"/>
<text class="t" x="956" y="1067">100</text><text class="t" x="972" y="1220">0</text>
<text class="t" x="988" y="1110" text-anchor="end">residues</text>
<text class="t" x="988" y="1132" text-anchor="end">assigned</text>
<text class="t" x="988" y="1154" text-anchor="end">[%]</text>
<rect x="1013" y="1068" width="28" height="146" fill="#000"/>
<rect x="1058" y="1082" width="28" height="132" fill="#000"/>
<rect x="1094" y="1072" width="28" height="142" fill="#000"/>
<rect x="1130" y="1106" width="28" height="108" fill="#000"/>
<rect x="1166" y="1130" width="28" height="84" fill="#000"/>
<text class="t" x="1013" y="1234">FL</text>
<text class="t" x="1062" y="1234">a<tspan font-size="10" dy="-6">0</tspan></text>
<text class="t" x="1102" y="1234">a</text><text class="t" x="1138" y="1234">b</text><text class="t" x="1170" y="1234">ab</text>
</svg>
</body></html>
